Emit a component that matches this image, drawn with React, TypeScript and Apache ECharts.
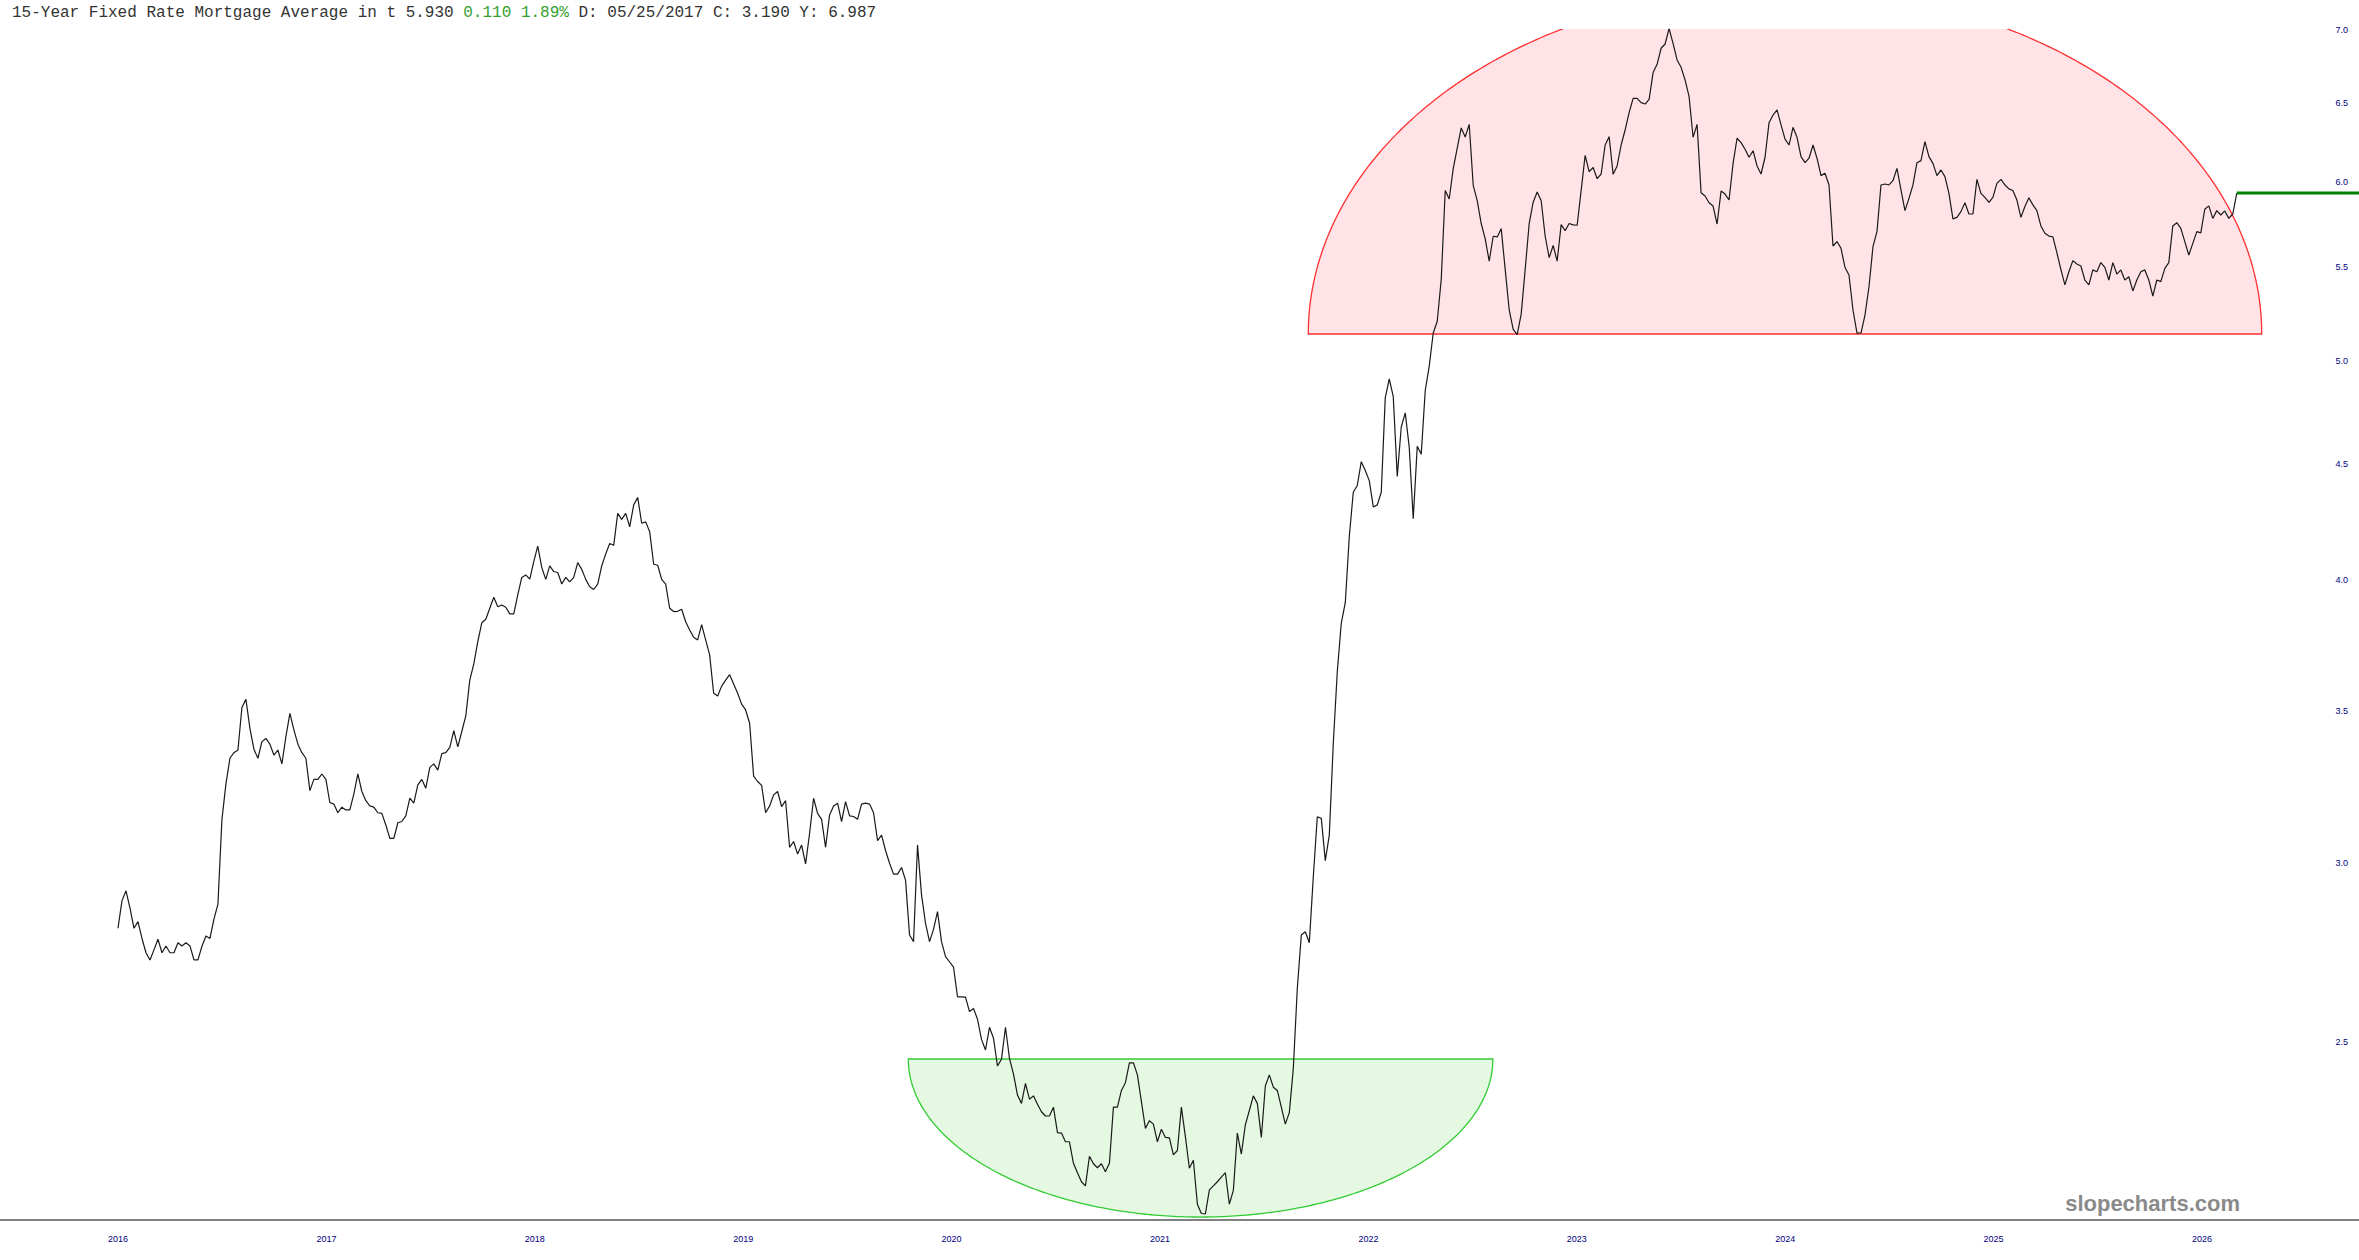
import React, { useEffect, useRef } from 'react';
import * as echarts from 'echarts';

// Weekly 15-year fixed mortgage rate (%)
const rates2016to2018 = [
  2.807, 2.887, 2.916, 2.865, 2.807, 2.826, 2.778, 2.738, 2.718, 2.746,
  2.776, 2.738, 2.757, 2.738, 2.738, 2.766, 2.757, 2.766, 2.757, 2.718,
  2.718, 2.756, 2.785, 2.778, 2.833, 2.877, 3.136, 3.251, 3.337, 3.356,
  3.365, 3.514, 3.543, 3.440, 3.368, 3.337, 3.394, 3.405, 3.385, 3.348,
  3.365, 3.318, 3.411, 3.493, 3.435, 3.385, 3.356, 3.337, 3.229, 3.266,
  3.266, 3.284, 3.266, 3.190, 3.185, 3.157, 3.175, 3.166, 3.166, 3.218,
  3.284, 3.226, 3.196, 3.179, 3.175, 3.157, 3.155, 3.118, 3.076, 3.076,
  3.125, 3.129, 3.147, 3.204, 3.188, 3.248, 3.266, 3.237, 3.306, 3.318,
  3.297, 3.353, 3.356, 3.374, 3.432, 3.376, 3.429, 3.484, 3.613, 3.673,
  3.757, 3.830, 3.844, 3.887, 3.931, 3.893, 3.900, 3.891, 3.865, 3.865,
  3.940, 4.011, 4.021, 4.004, 4.076, 4.141, 4.052, 4.003, 4.058, 4.035,
  4.031, 3.984, 4.011, 3.993, 4.011, 4.072, 4.044, 4.003, 3.973, 3.962,
  3.984,
];

const rates2018to2020 = [
  4.058, 4.108, 4.152, 4.144, 4.281, 4.255, 4.281, 4.223, 4.318, 4.351,
  4.238, 4.244, 4.202, 4.065, 4.061, 4.003, 3.984, 3.887, 3.874, 3.875,
  3.883, 3.834, 3.802, 3.774, 3.764, 3.823, 3.764, 3.707, 3.565, 3.555,
  3.591, 3.613, 3.633, 3.599, 3.565, 3.526, 3.505, 3.458, 3.277, 3.259,
  3.246, 3.157, 3.179, 3.215, 3.226, 3.177, 3.196, 3.048, 3.066, 3.027,
  3.055, 2.997, 3.092, 3.204, 3.155, 3.136, 3.048, 3.150, 3.179, 3.188,
  3.129, 3.193, 3.147, 3.145, 3.136, 3.185, 3.188, 3.185, 3.157, 3.069,
  3.086, 3.038, 2.999, 2.966, 2.966, 2.986, 2.948, 2.788, 2.769, 3.055,
  2.904, 2.821, 2.769, 2.804, 2.855, 2.769, 2.727, 2.713, 2.698, 2.618,
  2.618, 2.617,
];

const rates2020to2022 = [
  2.579, 2.587, 2.559, 2.507, 2.480, 2.538, 2.510, 2.440, 2.457, 2.538,
  2.459, 2.420, 2.369, 2.349, 2.397, 2.359, 2.367, 2.347, 2.329, 2.319,
  2.319, 2.340, 2.280, 2.279, 2.259, 2.259, 2.210, 2.189, 2.169, 2.160,
  2.226, 2.209, 2.200, 2.209, 2.191, 2.210, 2.340, 2.340, 2.380, 2.399,
  2.448, 2.448, 2.418, 2.353, 2.290, 2.308, 2.300, 2.259, 2.288, 2.269,
  2.268, 2.229, 2.239, 2.340, 2.271, 2.199, 2.217, 2.120, 2.100, 2.099,
  2.151, 2.160, 2.169, 2.179, 2.189, 2.120, 2.150, 2.279, 2.231, 2.298,
  2.332, 2.367, 2.349, 2.269, 2.391, 2.418, 2.388, 2.380, 2.340, 2.300,
  2.327, 2.434, 2.641, 2.788, 2.797, 2.766, 2.958, 3.144, 3.139, 3.007,
  3.086, 3.388,
];

const rates2022to2023 = [
  3.645, 3.829, 3.909, 4.181, 4.374, 4.404, 4.512, 4.472, 4.426, 4.309,
  4.318, 4.374, 4.816, 4.909, 4.821, 4.445, 4.674, 4.742, 4.578, 4.258,
  4.583, 4.547, 4.851, 4.973, 5.143, 5.205, 5.431, 5.946, 5.894, 6.079,
  6.207, 6.336, 6.278, 6.359, 5.977, 5.884, 5.749, 5.660, 5.533, 5.675,
  5.671, 5.719, 5.487, 5.265, 5.162, 5.135, 5.243, 5.487, 5.749, 5.875,
  5.936, 5.884, 5.675, 5.553, 5.622, 5.533, 5.743, 5.707, 5.749, 5.741,
  5.739, 5.946, 6.162, 6.061, 6.086, 6.017,
];

const rates2023to2025 = [
  6.046, 6.227, 6.280, 6.044, 6.096, 6.227, 6.323, 6.435, 6.530, 6.530,
  6.501, 6.492, 6.523, 6.703, 6.760, 6.871, 6.901, 7.010, 6.904, 6.790,
  6.739, 6.653, 6.541, 6.276, 6.359, 5.932, 5.912, 5.872, 5.852, 5.746,
  5.942, 5.924, 5.888, 6.112, 6.270, 6.242, 6.200, 6.150, 6.191, 6.096,
  6.046, 6.150, 6.370, 6.420, 6.453, 6.356, 6.264, 6.227, 6.340, 6.276,
  6.154, 6.116, 6.144, 6.227, 6.144, 6.036, 6.051, 5.979, 5.619, 5.644,
  5.606, 5.498, 5.456, 5.265, 5.142, 5.143, 5.238, 5.391, 5.616, 5.702,
  5.979, 5.985, 5.979, 6.005, 6.081, 5.949, 5.825, 5.898, 5.979, 6.116,
  6.129, 6.248, 6.154, 6.112, 6.036, 6.071, 6.030, 5.928, 5.776, 5.785,
  5.819, 5.872, 5.805, 5.805, 6.013, 5.928, 5.904, 5.874, 5.904, 5.989,
  6.013, 5.979, 5.955, 5.945, 5.888, 5.785, 5.849, 5.902, 5.859, 5.825,
  5.735, 5.692, 5.676, 5.672, 5.581, 5.487, 5.401, 5.474, 5.536, 5.517,
  5.506, 5.428, 5.401,
];

const rates2025to2026 = [
  5.484, 5.474, 5.525, 5.498, 5.428, 5.525, 5.461, 5.484, 5.428, 5.446,
  5.368, 5.428, 5.474, 5.484, 5.428, 5.340, 5.428, 5.419, 5.493, 5.525,
  5.735, 5.754, 5.721, 5.644, 5.568, 5.634, 5.702, 5.695, 5.833, 5.853,
  5.779, 5.825, 5.799, 5.823, 5.779, 5.805, 5.930,
];

const yearTicks = [2016, 2017, 2018, 2019, 2020, 2021, 2022, 2023, 2024, 2025, 2026];
const rateTicks = [2.5, 3.0, 3.5, 4.0, 4.5, 5.0, 5.5, 6.0, 6.5, 7.0];

const LAST_VALUE = 5.93;
const FIRST_YEAR = 2016;
const WEEKS_PER_YEAR = 52.13;
const X_MIN = 2015.4338;
const X_MAX = 2026.7534;
const Y_MIN = 2.0862;
const Y_MAX = 7.007;

// Annotation caps: [startYear, endYear, baseValue, apexValue]
const redCap = [2021.7116, 2026.2865, 5.138, 7.298];
const greenCap = [2019.7922, 2022.5974, 2.4574, 2.0925];

const titleMain = '15-Year Fixed Rate Mortgage Average in t 5.930 ';
const titleChange = '0.110 1.89%';
const titleTail = ' D: 05/25/2017 C: 3.190 Y: 6.987';
const watermark = 'slopecharts.com';

const allRates = [
  ...rates2016to2018,
  ...rates2018to2020,
  ...rates2020to2022,
  ...rates2022to2023,
  ...rates2023to2025,
  ...rates2025to2026,
];

function capRenderer(fill: string, stroke: string) {
  return (params: any, api: any) => {
    const x0 = api.value(0);
    const x1 = api.value(1);
    const b = api.value(2);
    const p = api.value(3);
    const left = api.coord([x0, b]);
    const right = api.coord([x1, b]);
    const apex = api.coord([(x0 + x1) / 2, p]);
    const cx = (left[0] + right[0]) / 2;
    const rx = (right[0] - left[0]) / 2;
    const yb = left[1];
    const ry = yb - apex[1];
    const pts: number[][] = [];
    for (let k = 0; k <= 240; k++) {
      const t = (Math.PI * k) / 240;
      pts.push([cx - rx * Math.cos(t), yb - ry * Math.sin(t)]);
    }
    const cs = params.coordSys;
    return {
      type: 'group',
      children: [
        {
          type: 'polygon',
          shape: { points: pts },
          style: { fill, stroke, lineWidth: 1.3 },
        },
      ],
      clipPath: {
        type: 'rect',
        shape: { x: cs.x, y: cs.y, width: cs.width, height: cs.height },
      },
    };
  };
}

export default function App() {
  const ref = useRef<HTMLDivElement>(null);
  useEffect(() => {
    if (!ref.current) return;
    const chart = echarts.init(ref.current, null, { renderer: 'svg' });
    const lineData = allRates.map((v, i) => [FIRST_YEAR + i / WEEKS_PER_YEAR, Math.log(v)]);
    const lastX = FIRST_YEAR + (allRates.length - 1) / WEEKS_PER_YEAR;
    const labelFont = "'Liberation Sans', Arial, sans-serif";
    chart.setOption({
      animation: false,
      backgroundColor: '#ffffff',
      grid: { left: 0, right: 0, top: 29, bottom: 40 },
      xAxis: {
        type: 'value',
        min: X_MIN,
        max: X_MAX,
        splitLine: { show: false },
        axisTick: { show: false },
        axisLine: { show: true, onZero: false, lineStyle: { color: '#808080', width: 2 } },
        axisLabel: {
          customValues: yearTicks,
          formatter: (v: number) => String(Math.round(v)),
          color: '#000080',
          fontSize: 9,
          fontFamily: labelFont,
          margin: 14,
        },
      },
      yAxis: {
        type: 'value',
        position: 'right',
        min: Math.log(Y_MIN),
        max: Math.log(Y_MAX),
        splitLine: { show: false },
        axisTick: { show: false },
        axisLine: { show: false },
        axisLabel: {
          inside: true,
          customValues: rateTicks.map((t) => Math.log(t)),
          formatter: (v: number) => Math.exp(v).toFixed(1),
          color: '#000080',
          fontSize: 9,
          fontFamily: labelFont,
          margin: 11,
          align: 'right',
        },
      },
      series: [
        {
          type: 'custom',
          name: 'resistance',
          clip: true,
          z: 1,
          renderItem: capRenderer('#ffe3e6', '#ff3030'),
          encode: { x: [0, 1], y: [2, 3] },
          data: [[redCap[0], redCap[1], Math.log(redCap[2]), Math.log(redCap[3])]],
          silent: true,
        },
        {
          type: 'custom',
          name: 'support',
          clip: true,
          z: 1,
          renderItem: capRenderer('#e4f8e2', '#33cc33'),
          encode: { x: [0, 1], y: [2, 3] },
          data: [[greenCap[0], greenCap[1], Math.log(greenCap[2]), Math.log(greenCap[3])]],
          silent: true,
        },
        {
          type: 'line',
          name: 'rate',
          z: 3,
          showSymbol: false,
          symbol: 'none',
          clip: true,
          lineStyle: { color: '#1a1a1a', width: 1.2 },
          data: lineData,
        },
        {
          type: 'line',
          name: 'last',
          z: 4,
          showSymbol: false,
          symbol: 'none',
          lineStyle: { color: '#008000', width: 3 },
          data: [
            [lastX, Math.log(LAST_VALUE)],
            [X_MAX, Math.log(LAST_VALUE)],
          ],
        },
      ],
      graphic: [
        {
          type: 'text',
          x: 12,
          y: 13,
          z: 10,
          style: {
            text: `{a|${titleMain}}{g|${titleChange}}{a|${titleTail}}`,
            verticalAlign: 'middle',
            rich: {
              a: { fill: '#333333', fontSize: 16, fontFamily: "'Courier New', 'Liberation Mono', monospace" },
              g: { fill: '#33a02c', fontSize: 16, fontFamily: "'Courier New', 'Liberation Mono', monospace" },
            },
          },
        },
        {
          type: 'text',
          x: 2240,
          y: 1203,
          z: 10,
          style: {
            text: watermark,
            align: 'right',
            verticalAlign: 'middle',
            fill: '#8a8a8a',
            fontSize: 22,
            fontWeight: 'bold',
            fontFamily: "'Liberation Sans', Arial, sans-serif",
          },
        },
      ],
    });
    return () => chart.dispose();
  }, []);
  return (
    <div
      ref={ref}
      style={{ position: 'fixed', left: 0, top: 0, width: 2359, height: 1260, background: '#ffffff' }}
    />
  );
}
